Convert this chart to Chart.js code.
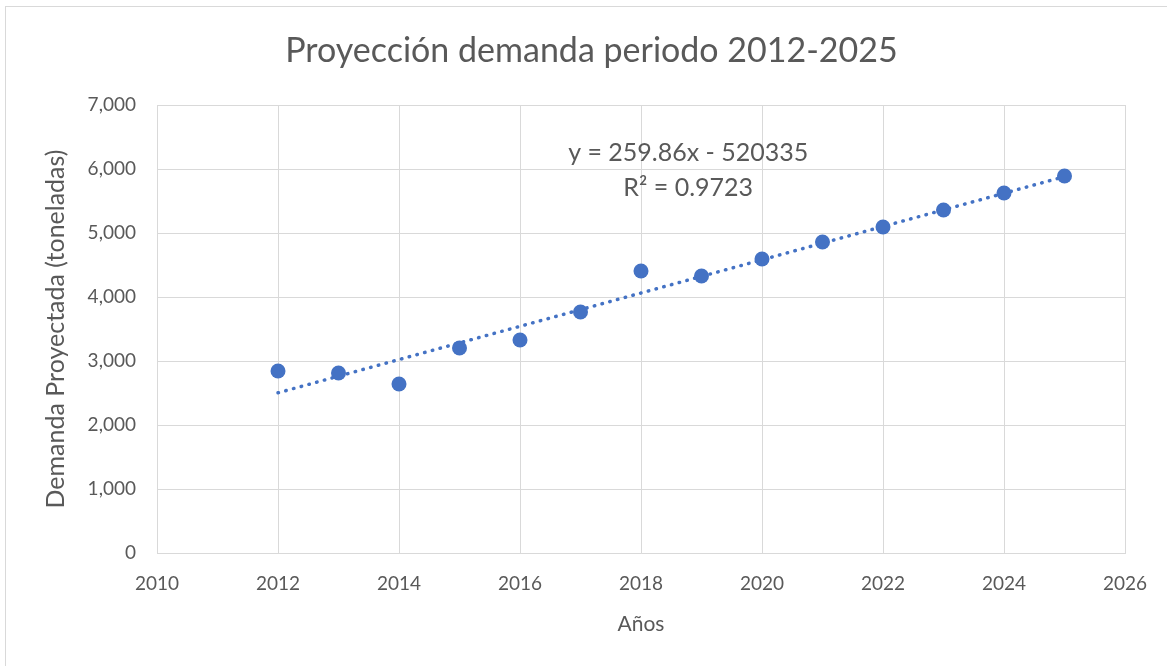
<!DOCTYPE html>
<html>
<head>
<meta charset="utf-8">
<script src="https://cdn.jsdelivr.net/npm/chart.js@4/dist/chart.umd.min.js"></script>
<style>
  html, body { margin: 0; padding: 0; background: #fff; overflow: hidden; }
  #wrap { position: relative; width: 1167px; height: 666px; overflow: hidden; }
  #frame { position: absolute; left: 5px; top: 6px; width: 1200px; height: 700px; border: 1px solid #d9d9d9; box-sizing: border-box; }
  canvas { position: absolute; left: 0; top: 0; }
</style>
</head>
<body>
<div id="wrap">
  <div id="frame"></div>
  <canvas id="chart" width="1167" height="666"></canvas>
</div>
<script>
// years and projected demand (tonnes)
const years = [2012, 2013, 2014, 2015, 2016, 2017, 2018, 2019, 2020, 2021, 2022, 2023, 2024, 2025];
const demand = [2844, 2813, 2641, 3203, 3328, 3766, 4406, 4328, 4594, 4859, 5094, 5359, 5625, 5891];

// linear trend end points (from the equation shown on the chart)
const trendYears = [2012, 2025];
const trendValues = [2503, 5881];

const chartTitle = 'Proyección demanda periodo 2012-2025';
const eqLines = ['y = 259.86x - 520335', 'R² = 0.9723'];

const fontFamily = 'Lato, "Open Sans", sans-serif';
const textColor = '#595959';
const gridColor = '#d9d9d9';
const blue = '#4472C4';

// chart title centred on the whole frame (not just the padded area)
const frameTitle = {
  id: 'frameTitle',
  afterDraw(chart, args, opts) {
    const { ctx } = chart;
    ctx.save();
    ctx.fillStyle = textColor;
    ctx.font = opts.size + 'px ' + fontFamily;
    ctx.textAlign = 'center';
    ctx.textBaseline = 'middle';
    ctx.fillText(opts.text, chart.width / 2 + opts.dx, opts.y);
    ctx.restore();
  }
};

// draws the trendline equation in data space
const equationLabel = {
  id: 'equationLabel',
  afterDatasetsDraw(chart, args, opts) {
    const { ctx, scales } = chart;
    const x = scales.x.getPixelForValue(opts.x);
    ctx.save();
    ctx.fillStyle = textColor;
    ctx.font = opts.size + 'px ' + fontFamily;
    ctx.textAlign = 'center';
    ctx.textBaseline = 'middle';
    opts.lines.forEach((line, i) => {
      ctx.fillText(line, x, scales.y.getPixelForValue(opts.ys[i]));
    });
    ctx.restore();
  }
};

const ctx = document.getElementById('chart').getContext('2d');
new Chart(ctx, {
  type: 'scatter',
  data: {
    datasets: [
      {
        label: 'Demanda',
        data: years.map((yr, i) => ({ x: yr, y: demand[i] })),
        pointRadius: 7.5,
        pointHoverRadius: 7.5,
        backgroundColor: blue,
        borderWidth: 0,
        order: 0
      },
      {
        label: 'Lineal',
        type: 'line',
        data: trendYears.map((yr, i) => ({ x: yr, y: trendValues[i] })),
        borderColor: blue,
        borderWidth: 3.5,
        borderDash: [0.5, 7.5],
        borderCapStyle: 'round',
        pointRadius: 0,
        fill: false,
        order: 1
      }
    ]
  },
  options: {
    responsive: false,
    animation: false,
    layout: { padding: { left: 0, right: 42, top: 105, bottom: 0 } },
    plugins: {
      legend: { display: false },
      tooltip: { enabled: false },
      title: { display: false },
      frameTitle: { text: chartTitle, size: 34, dx: 8, y: 51 },
      equationLabel: { x: 2018.78, ys: [6250, 5703], lines: eqLines, size: 25 }
    },
    scales: {
      x: {
        type: 'linear',
        min: 2010,
        max: 2026,
        ticks: {
          stepSize: 2,
          color: textColor,
          padding: 19,
          font: { family: fontFamily, size: 19 },
          callback: v => String(v)
        },
        grid: { color: gridColor, drawTicks: false },
        border: { color: gridColor },
        title: {
          display: true,
          text: 'Años',
          color: textColor,
          font: { family: fontFamily, size: 21 },
          padding: { top: 4, bottom: 29 }
        },
        afterFit: s => { s.height = 113; }
      },
      y: {
        min: 0,
        max: 7000,
        ticks: {
          stepSize: 1000,
          color: textColor,
          padding: 21,
          font: { family: fontFamily, size: 19 },
          callback: v => v.toLocaleString('en-US')
        },
        grid: { color: gridColor, drawTicks: false },
        border: { color: gridColor },
        title: {
          display: true,
          text: 'Demanda Proyectada (toneladas)',
          color: textColor,
          font: { family: fontFamily, size: 25 },
          padding: { top: 41, bottom: 4 }
        },
        afterFit: s => { s.width = 157; }
      }
    }
  },
  plugins: [frameTitle, equationLabel]
});
</script>
</body>
</html>
